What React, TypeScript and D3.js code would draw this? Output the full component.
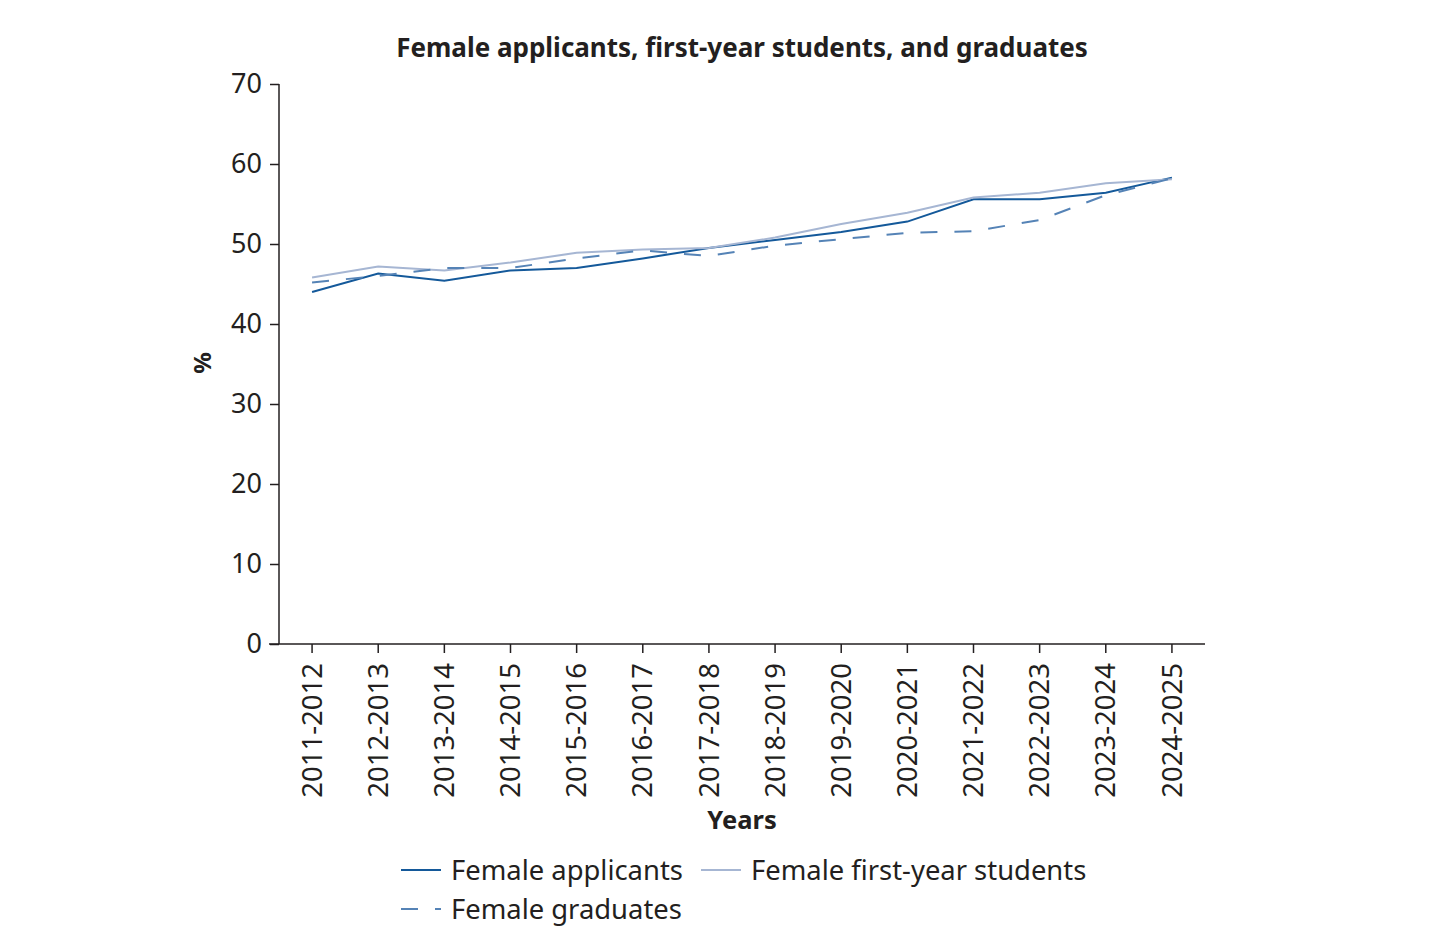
import React, { useEffect, useRef } from 'react';
import * as d3 from 'd3';

const years = [
  '2011-2012', '2012-2013', '2013-2014', '2014-2015', '2015-2016', '2016-2017', '2017-2018',
  '2018-2019', '2019-2020', '2020-2021', '2021-2022', '2022-2023', '2023-2024', '2024-2025'
];

const applicants = [44.0, 46.3, 45.4, 46.7, 47.0, 48.2, 49.5, 50.5, 51.5, 52.8, 55.6, 55.6, 56.4, 58.3];
const firstYear = [45.8, 47.2, 46.7, 47.7, 48.9, 49.3, 49.5, 50.8, 52.5, 53.9, 55.8, 56.4, 57.6, 58.1];
const graduates = [45.2, 46.0, 47.0, 47.0, 48.2, 49.2, 48.5, 49.8, 50.6, 51.4, 51.6, 53.0, 56.1, 58.2];

const yTicks = [0, 10, 20, 30, 40, 50, 60, 70];

const series = [
  { name: 'Female applicants', values: applicants, color: '#14599a', dash: null, width: 2 },
  { name: 'Female first-year students', values: firstYear, color: '#a6b6d3', dash: null, width: 2 },
  { name: 'Female graduates', values: graduates, color: '#5583b6', dash: '17,17', width: 2 }
];

const FONT = '"Noto Sans", "Open Sans", sans-serif';

const App: React.FC = () => {
  const svgRef = useRef<SVGSVGElement>(null);

  useEffect(() => {
    if (!svgRef.current) return;
    const svg = d3.select(svgRef.current);
    svg.selectAll('*').remove();

    const width = 1448;
    const height = 934;
    const left = 279, right = 1205, top = 84, bottom = 644;

    const x = d3.scaleBand<string>().domain(years).range([left, right]).padding(0);
    const y = d3.scaleLinear().domain([0, 70]).range([bottom, top]);
    const cx = (d: string) => (x(d) ?? 0) + x.bandwidth() / 2;

    svg.attr('width', width).attr('height', height);

    // Title
    svg.append('text')
      .attr('x', 742)
      .attr('y', 57)
      .attr('text-anchor', 'middle')
      .style('font-family', FONT)
      .style('font-size', '26px')
      .style('font-weight', 'bold')
      .style('fill', '#231f20')
      .text('Female applicants, first-year students, and graduates');

    // Y axis
    const yAxis = svg.append('g')
      .attr('transform', `translate(${left},0)`)
      .call(d3.axisLeft(y).tickValues(yTicks).tickSize(9).tickPadding(8));
    yAxis.select('.domain').attr('stroke', '#231f20').attr('stroke-width', 1.5).attr('d', `M0,${top}V${bottom}`);
    yAxis.selectAll('.tick line').attr('stroke', '#231f20').attr('stroke-width', 1.5);
    yAxis.selectAll('.tick text')
      .style('font-family', FONT)
      .style('font-size', '27px')
      .style('fill', '#231f20');

    // X axis
    const xAxis = svg.append('g')
      .attr('transform', `translate(0,${bottom})`)
      .call(d3.axisBottom(x).tickSize(9).tickSizeOuter(0).tickPadding(0));
    xAxis.select('.domain').attr('stroke', '#231f20').attr('stroke-width', 1.5).attr('d', `M${left - 10},0H${right}`);
    xAxis.selectAll('.tick line').attr('stroke', '#231f20').attr('stroke-width', 1.5);
    xAxis.selectAll('.tick text')
      .attr('transform', 'rotate(-90)')
      .attr('x', -19)
      .attr('y', 0)
      .attr('dy', '0.35em')
      .style('text-anchor', 'end')
      .style('font-family', FONT)
      .style('font-size', '27.5px')
      .style('fill', '#231f20');

    // Axis titles
    svg.append('text')
      .attr('transform', 'translate(211,363) rotate(-90)')
      .attr('text-anchor', 'middle')
      .style('font-family', FONT)
      .style('font-size', '24px')
      .style('font-weight', 'bold')
      .style('fill', '#231f20')
      .text('%');

    svg.append('text')
      .attr('x', 742)
      .attr('y', 829)
      .attr('text-anchor', 'middle')
      .style('font-family', FONT)
      .style('font-size', '25.5px')
      .style('font-weight', 'bold')
      .style('fill', '#231f20')
      .text('Years');

    // Lines
    const line = d3.line<number>()
      .x((_, i) => cx(years[i]))
      .y(d => y(d));

    series.forEach(s => {
      svg.append('path')
        .datum(s.values)
        .attr('fill', 'none')
        .attr('stroke', s.color)
        .attr('stroke-width', s.width)
        .attr('stroke-dasharray', s.dash)
        .attr('d', line);
    });

    // Legend
    const legendItems = [
      { s: series[0], x: 401, y: 870 },
      { s: series[1], x: 701, y: 870 },
      { s: series[2], x: 401, y: 909 }
    ];
    legendItems.forEach(({ s, x: lx, y: ly }) => {
      svg.append('line')
        .attr('x1', lx).attr('x2', lx + 40)
        .attr('y1', ly).attr('y2', ly)
        .attr('stroke', s.color)
        .attr('stroke-width', s.width)
        .attr('stroke-dasharray', s.dash);
      svg.append('text')
        .attr('x', lx + 50)
        .attr('y', ly)
        .attr('dy', '0.35em')
        .style('font-family', FONT)
        .style('font-size', '27.4px')
        .style('fill', '#231f20')
        .text(s.name);
    });
  }, []);

  return <svg ref={svgRef} style={{ display: 'block', margin: '-8px' }} />;
};

export default App;
